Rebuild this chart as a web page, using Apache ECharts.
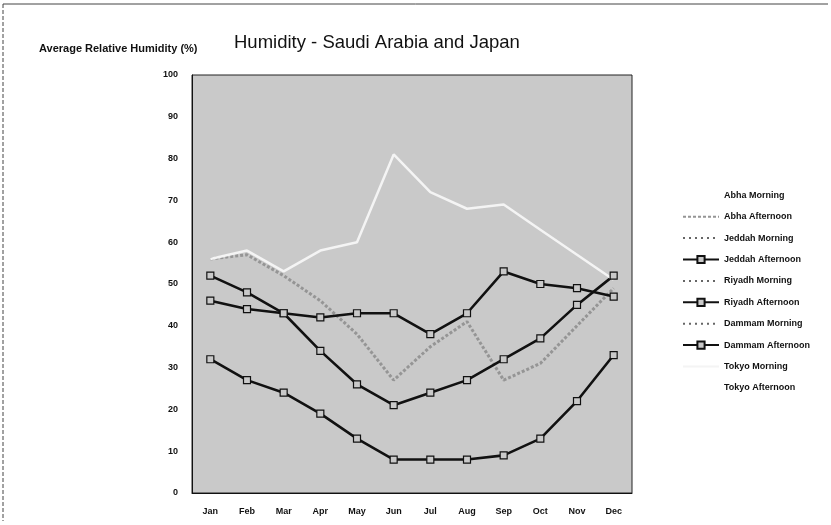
<!DOCTYPE html>
<html>
<head>
<meta charset="utf-8">
<script src="https://cdn.jsdelivr.net/npm/echarts@6/dist/echarts.min.js"></script>
<style>
  body { margin: 0; background: #fff; }
  #main { width: 831px; height: 525px; }
</style>
</head>
<body>
<div id="main"></div>
<script>
// months on the x axis
const months = ["Jan", "Feb", "Mar", "Apr", "May", "Jun", "Jul", "Aug", "Sep", "Oct", "Nov", "Dec"];

// values (%); series that cannot be seen are left empty
const abhaMorning = [];
const abhaAfternoon = [56, 57, 52, 46, 38, 27, 35, 41, 27, 31, 40, 49];
const jeddahMorning = [];
const jeddahAfternoon = [46, 44, 43, 42, 43, 43, 38, 43, 53, 50, 49, 47];
const riyadhMorning = [];
const riyadhAfternoon = [32, 27, 24, 19, 13, 8, 8, 8, 9, 13, 22, 33];
const dammamMorning = [];
const dammamAfternoon = [52, 48, 43, 34, 26, 21, 24, 27, 32, 37, 45, 52];
const tokyoMorning = [56, 58, 53, 58, 60, 81, 72, 68, 69, 63, 57, 51];
const tokyoAfternoon = [];

const FONT = "Liberation Sans";

// plain line, no markers (legend marker made transparent)
function lineSeries(name, data, color, width, type) {
  return {
    name: name,
    type: "line",
    data: data,
    symbol: "none",
    lineStyle: { color: color, width: width, type: type || "solid" },
    itemStyle: { color: "rgba(0,0,0,0)" },
  };
}

function markedSeries(name, data) {
  return {
    name: name,
    type: "line",
    data: data,
    symbol: "rect",
    symbolSize: 7,
    lineStyle: { color: "#111", width: 2.6 },
    itemStyle: { color: "#c9c9c9", borderColor: "#111", borderWidth: 1.2 },
  };
}

const chart = echarts.init(document.getElementById("main"));
chart.setOption({
  animation: false,
  backgroundColor: "#fff",
  title: [
    {
      text: "Humidity - Saudi Arabia and Japan",
      left: 229,
      top: 28,
      textStyle: { fontFamily: FONT, fontSize: 18.5, fontWeight: "normal", color: "#111" },
    },
    {
      text: "Average Relative Humidity (%)",
      left: 34,
      top: 38,
      textStyle: { fontFamily: FONT, fontSize: 11, fontWeight: "bold", color: "#111" },
    },
  ],
  legend: {
    orient: "vertical",
    left: 677,
    top: 186,
    itemWidth: 36,
    itemHeight: 9,
    itemGap: 12.3,
    textStyle: { fontFamily: FONT, fontSize: 9, fontWeight: "bold", color: "#111" },
    data: [
      "Abha Morning", "Abha Afternoon", "Jeddah Morning", "Jeddah Afternoon", "Riyadh Morning",
      "Riyadh Afternoon", "Dammam Morning", "Dammam Afternoon", "Tokyo Morning", "Tokyo Afternoon",
    ],
  },
  grid: {
    left: 192,
    right: 199,
    top: 75,
    bottom: 32,
    show: true,
    backgroundColor: "#c9c9c9",
    borderColor: "#222",
    borderWidth: 1,
  },
  xAxis: {
    type: "category",
    data: months,
    boundaryGap: true,
    axisLine: { lineStyle: { color: "#111" } },
    axisTick: { show: false },
    axisLabel: { fontFamily: FONT, fontSize: 9, fontWeight: "bold", color: "#111", margin: 14 },
  },
  yAxis: {
    type: "value",
    min: 0,
    max: 100,
    interval: 10,
    axisLine: { show: true, lineStyle: { color: "#111" } },
    axisTick: { show: false },
    splitLine: { show: false },
    axisLabel: { fontFamily: FONT, fontSize: 9, fontWeight: "bold", color: "#111", margin: 14 },
  },
  series: [
    lineSeries("Abha Morning", abhaMorning, "#ffffff", 1.5, "dotted"),
    lineSeries("Abha Afternoon", abhaAfternoon, "#959595", 3, [3, 2]),
    lineSeries("Jeddah Morning", jeddahMorning, "#666", 1.2, [2, 4]),
    markedSeries("Jeddah Afternoon", jeddahAfternoon),
    lineSeries("Riyadh Morning", riyadhMorning, "#666", 1.2, [2, 4]),
    markedSeries("Riyadh Afternoon", riyadhAfternoon),
    lineSeries("Dammam Morning", dammamMorning, "#666", 1.2, [2, 4]),
    markedSeries("Dammam Afternoon", dammamAfternoon),
    lineSeries("Tokyo Morning", tokyoMorning, "#f4f4f4", 2.5),
    lineSeries("Tokyo Afternoon", tokyoAfternoon, "#ffffff", 1.5),
  ],
  graphic: [
    { type: "line", shape: { x1: 3, y1: 4, x2: 828, y2: 4 }, style: { stroke: "#444", lineWidth: 1 } },
    { type: "line", shape: { x1: 3, y1: 4, x2: 3, y2: 521 }, style: { stroke: "#444", lineWidth: 1, lineDash: [4, 2] } },
  ],
});
</script>
</body>
</html>
